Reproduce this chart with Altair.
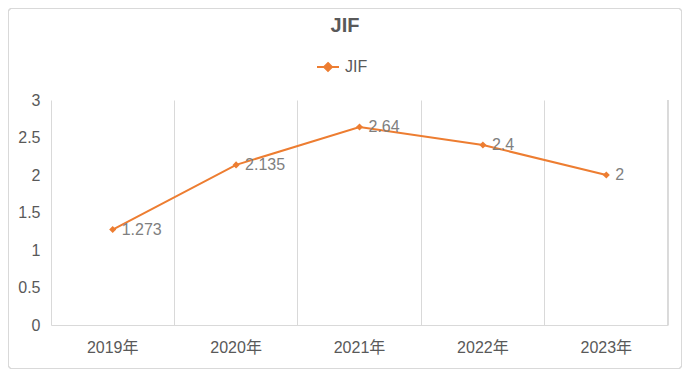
import altair as alt
import pandas as pd

years = ["2019年", "2020年", "2021年", "2022年", "2023年"]
jif = [1.273, 2.135, 2.64, 2.4, 2.0]
labels = ["1.273", "2.135", "2.64", "2.4", "2"]
series = "JIF"
title_text = "JIF"

df = pd.DataFrame({"year": years, "jif": jif, "label": labels, "series": [series] * len(years)})

FONT = "Liberation Sans, Noto Sans CJK SC, sans-serif"
ORANGE = "#ED7D31"
W, H = 617, 225

x = alt.X("year:N", sort=years, title=None,
          scale=alt.Scale(type="band", paddingInner=0, paddingOuter=0),
          axis=alt.Axis(labelAngle=0, bandPosition=0, grid=True, gridColor="#d9d9d9",
                        ticks=False, domainColor="#d9d9d9", labelFontSize=16,
                        labelColor="#595959", labelFont=FONT, labelPadding=14,
                        labelBaseline="top"))
y = alt.Y("jif:Q", title=None,
          scale=alt.Scale(domain=[0, 3]),
          axis=alt.Axis(values=[0, 0.5, 1, 1.5, 2, 2.5, 3], format="~g", grid=False,
                        domain=False, ticks=False, labelFontSize=16, labelColor="#595959",
                        labelFont=FONT, labelPadding=11))

base = alt.Chart(df)

frame = base.mark_rect(fillOpacity=0, stroke="#d9d9d9", strokeWidth=1, cornerRadius=3).encode(
    x=alt.value(-42.5), x2=alt.value(630.5), y=alt.value(-91.5), y2=alt.value(268.5))
title = alt.Chart(pd.DataFrame({"t": [title_text]})).mark_text(
    fontSize=20, fontWeight="bold", color="#595959", font=FONT,
    align="center", baseline="middle").encode(
    x=alt.value(294), y=alt.value(-74), text="t:N")
line = base.mark_line(strokeWidth=2).encode(
    x=x, y=y,
    color=alt.Color("series:N", title=None,
                    scale=alt.Scale(domain=[series], range=[ORANGE]),
                    legend=alt.Legend(orient="none", legendX=265, legendY=-45,
                                      symbolType="M-1,0L1,0M0,-0.36L0.36,0L0,0.36L-0.36,0Z",
                                      symbolSize=484, symbolStrokeWidth=2,
                                      symbolFillColor=ORANGE, symbolStrokeColor=ORANGE,
                                      labelFontSize=16, labelColor="#595959",
                                      labelFont=FONT, labelOffset=5)),
)
pts = base.mark_point(shape="diamond", filled=True, size=50, opacity=1, color=ORANGE).encode(x=x, y=y)
txt = base.mark_text(align="left", baseline="middle", dx=9, dy=0, fontSize=16,
                     color="#7f7f7f", font=FONT).encode(x=x, y=y, text="label:N")
right_edge = base.mark_rule(color="#d9d9d9", strokeWidth=1).encode(
    x=alt.value(W), y=alt.value(0), y2=alt.value(H))

chart = alt.layer(frame, title, right_edge, line, pts, txt).properties(
    width=W, height=H,
    autosize=alt.AutoSizeParams(type="none"),
    padding={"left": 43, "top": 92, "right": 14, "bottom": 44},
).configure_view(stroke=None)

chart.save("out.html", embed_options={"renderer": "svg", "actions": False})
